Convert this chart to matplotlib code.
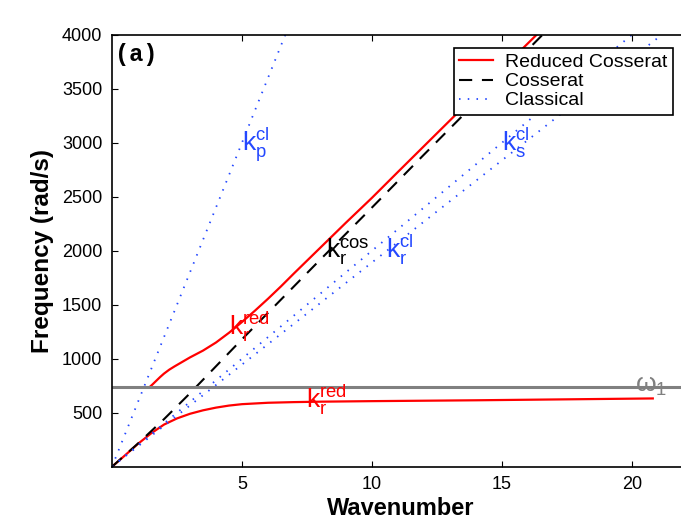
import matplotlib
matplotlib.use("Agg")
import matplotlib.pyplot as plt
import numpy as np

plt.rcParams['font.family'] = ['Liberation Sans', 'DejaVu Sans']
plt.rcParams['mathtext.fontset'] = 'custom'
plt.rcParams['mathtext.rm'] = 'Liberation Sans'
plt.rcParams['mathtext.it'] = 'Liberation Sans:italic'
plt.rcParams['lines.scale_dashes'] = False

# Reduced Cosserat: acoustic (lower) and optical (upper) branches
k_red_low = [0, 0.5, 1, 1.5, 2, 2.5, 3, 3.5, 4, 4.5, 5, 6, 7, 8, 10, 12, 14, 16, 18, 20.8]
f_red_low = [0, 105, 212, 308, 390, 447, 490, 522, 547, 566, 579, 592, 598, 602, 607, 611, 615, 620, 625, 632]

k_red_up = [1.45, 1.55, 1.7, 1.85, 2.0, 2.2, 2.4, 2.7, 3.0, 3.5, 4.0, 4.5, 5.0, 5.5,
            6.0, 6.5, 7.0, 8.0, 9.0, 10.0, 11.0, 12.3, 14.0, 16.27, 17.0]
f_red_up = [738, 760, 795, 830, 862, 898, 928, 970, 1012, 1075, 1150, 1240, 1340, 1445,
            1555, 1670, 1790, 2025, 2260, 2490, 2730, 3040, 3445, 3985, 4160]

# Cosserat rotational branch
k_cos = [0, 1, 2, 3, 4, 5, 6, 7, 8, 10, 12, 14, 16.5, 18]
f_cos = [0, 215, 440, 680, 930, 1180, 1425, 1670, 1915, 2400, 2890, 3375, 3985, 4350]

# Classical: P, S and Rayleigh lines
k_cl = [0, 23]
f_p = [0, 13800]
f_s = [0, 4600]
f_r = [0, 4350]

omega1 = 735

xticks = [5, 10, 15, 20]
yticks = [500, 1000, 1500, 2000, 2500, 3000, 3500, 4000]

red = '#ff0000'
blue = '#2448ff'
gray = '#808080'

XMAX = 22.6

fig = plt.figure(figsize=(6.81, 5.22), dpi=100)
ax = fig.add_axes([112 / 681, 1 - 466.7 / 522, XMAX * 26 / 681, 432 / 522])

ax.plot(k_red_low, f_red_low, color=red, lw=1.6, label='Reduced Cosserat')
ax.plot(k_red_up, f_red_up, color=red, lw=1.6)
ax.plot(k_cos, f_cos, color='black', lw=1.5, dashes=(9.5, 7), label='Cosserat')
dot = dict(color=blue, lw=1.3, dashes=(1.1, 5.2))
ax.plot(k_cl, f_p, label='Classical', **dot)
ax.plot(k_cl, f_s, **dot)
ax.plot(k_cl, f_r, **dot)
ax.axhline(omega1, color=gray, lw=2.2)

ax.set_xlim(0, XMAX)
ax.set_ylim(0, 4000)
ax.set_xticks(xticks)
ax.set_yticks(yticks)
ax.tick_params(direction='in', length=4.5, width=0.8, top=True, right=True,
               labelsize=13, pad=7)
for s in ax.spines.values():
    s.set_linewidth(1.2)

# x label centred under the visible part of the plot
ax.set_xlabel('Wavenumber', fontsize=17, fontweight='bold')
ax.xaxis.set_label_coords((401 - 112) / (XMAX * 26), -0.071)
ax.set_ylabel('Frequency (rad/s)', fontsize=17.5, fontweight='bold', labelpad=6)

ax.text(0.12, 3820, '(a)', family='Liberation Mono', fontweight='bold',
        fontsize=17, va='center', ha='left')

lab = dict(fontsize=19, ha='left', va='baseline')
ax.text(5.0, 2926, r'$\mathregular{k_p^{cl}}$', color=blue, **lab)
ax.text(15.0, 2926, r'$\mathregular{k_s^{cl}}$', color=blue, **lab)
ax.text(10.55, 1930, r'$\mathregular{k_r^{cl}}$', color=blue, **lab)
ax.text(8.25, 1930, r'$\mathregular{k_r^{cos}}$', color='black', **lab)
ax.text(4.5, 1219, r'$\mathregular{k_r^{red}}$', color=red, **lab)
ax.text(7.45, 541, r'$\mathregular{k_r^{red}}$', color=red, **lab)
ax.text(20.1, 694, r'$\mathregular{\omega_1}$', color=gray, **lab)

leg = ax.legend(loc='upper right', bbox_to_anchor=(673.3 / 681, 1 - 47.7 / 522),
                bbox_transform=fig.transFigure, borderaxespad=0, fontsize=14,
                handlelength=1.75, handletextpad=0.6, labelspacing=0.08,
                borderpad=0.3, fancybox=False, framealpha=1, edgecolor='black')
leg.get_frame().set_linewidth(1.2)

fig.savefig('out.png', dpi=100)
